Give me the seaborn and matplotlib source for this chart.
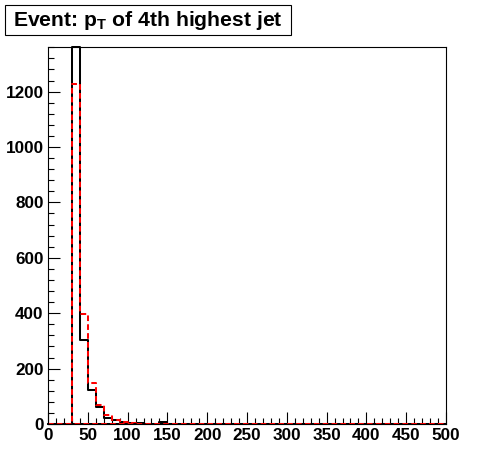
import numpy as np
import pandas as pd
import matplotlib
matplotlib.use('Agg')
import matplotlib.pyplot as plt
from matplotlib.patches import Rectangle
from matplotlib.ticker import MultipleLocator
import seaborn as sns

# =============================================================================
# Data (bins of 10 GeV from 0 to 500)
# =============================================================================
bin_edges = list(range(0, 510, 10))
bin_centers = [e + 5 for e in bin_edges[:-1]]

# black histogram, non-zero bins only (bin low edge -> count)
black_counts = {30: 1361, 40: 303, 50: 123, 60: 61, 70: 20, 80: 14,
                90: 8, 100: 4, 110: 2, 140: 6}
# red dashed histogram
red_counts = {30: 1227, 40: 396, 50: 149, 60: 68, 70: 32, 80: 14,
              90: 8, 100: 3, 110: 1}

y_top = 1361

black_w = [black_counts.get(e, 0) for e in bin_edges[:-1]]
red_w = [red_counts.get(e, 0) for e in bin_edges[:-1]]

df = pd.DataFrame({'pt': bin_centers, 'black': black_w, 'red': red_w})

# =============================================================================
# Plot
# =============================================================================
sns.set_style('white')
plt.rcParams['font.family'] = ['Liberation Sans', 'DejaVu Sans']
plt.rcParams['font.weight'] = 'bold'
plt.rcParams['text.color'] = 'black'
plt.rcParams['mathtext.fontset'] = 'custom'
plt.rcParams['mathtext.rm'] = 'Liberation Sans:bold'
plt.rcParams['mathtext.it'] = 'Liberation Sans:bold'
plt.rcParams['mathtext.bf'] = 'Liberation Sans:bold'

fig = plt.figure(figsize=(4.96, 4.72), dpi=100)
ax = fig.add_axes([48/496, 48/472, 398/496, 377/472])

sns.histplot(data=df, x='pt', weights='black', bins=bin_edges,
             element='step', fill=False, color='black', linewidth=1.45,
             ax=ax, clip_on=False)
sns.histplot(data=df, x='pt', weights='red', bins=bin_edges,
             element='step', fill=False, color='red', linewidth=1.45,
             linestyle=(0, (2.8, 1.6)), ax=ax)

# zero level line of the histograms
ax.plot([0, 500], [0, 0], color='black', lw=1.45, clip_on=False)
ax.plot([0, 500], [0, 0], color='red', lw=1.45, ls=(0, (2.8, 1.6)), clip_on=False)

ax.set_xlim(0, 500)
ax.set_ylim(0, y_top)
ax.set_xlabel('')
ax.set_ylabel('')

ax.xaxis.set_major_locator(MultipleLocator(50))
ax.xaxis.set_minor_locator(MultipleLocator(10))
ax.yaxis.set_major_locator(MultipleLocator(200))
ax.yaxis.set_minor_locator(MultipleLocator(40))
ax.tick_params(which='both', direction='in', top=False, right=False,
               bottom=True, left=True, width=0.8, colors='black',
               labelcolor='black', labelsize=12.3)
ax.tick_params(which='major', length=8.6, pad=3.2)
ax.tick_params(which='minor', length=4.3)
for lab in ax.get_xticklabels() + ax.get_yticklabels():
    lab.set_fontweight('bold')

for sp in ax.spines.values():
    sp.set_visible(True)
    sp.set_color('black')
    sp.set_linewidth(0.8)

# title box, ROOT style
fig.patches.append(Rectangle((5/496, 1 - 35/472), 286/496, 30/472,
                             transform=fig.transFigure, facecolor='white',
                             edgecolor='black', linewidth=0.8))
fig.text(148/496, 1 - 20/472, 'Event: $p_T$ of 4th highest jet',
         ha='center', va='center', fontsize=15.2, fontweight='bold',
         color='black')

plt.savefig('out.png', dpi=100)
